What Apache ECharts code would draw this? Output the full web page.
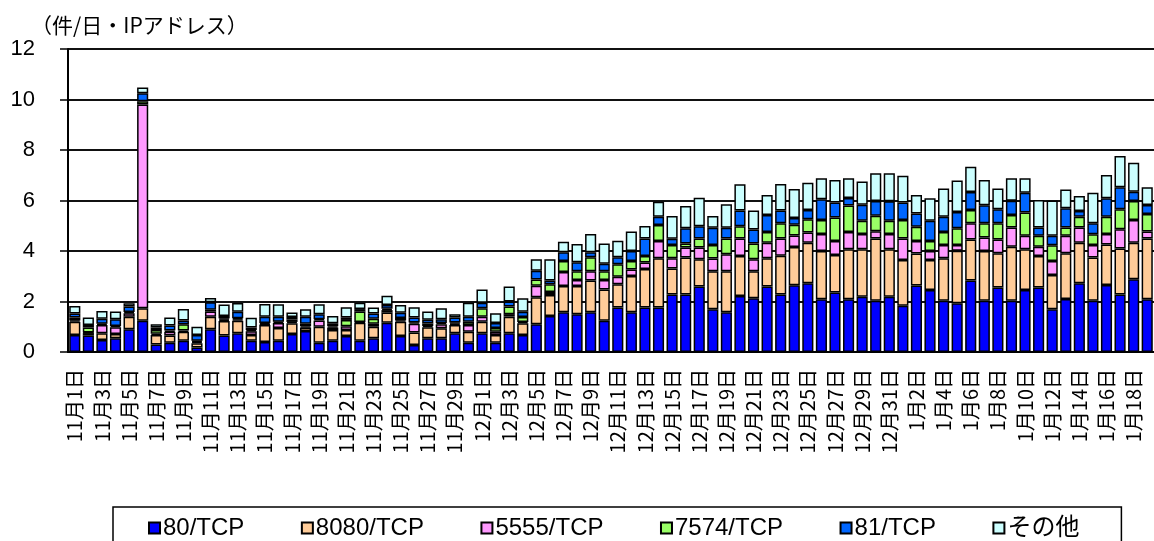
<!DOCTYPE html>
<html>
<head>
<meta charset="utf-8">
<script src="https://cdn.jsdelivr.net/npm/echarts@6/dist/echarts.min.js"></script>
<style>
  html, body { margin: 0; padding: 0; background: #fff; }
  #main { width: 1154px; height: 541px; }
</style>
</head>
<body>
<div id="main"></div>
<script>
// 日付カテゴリ (11/1 - 1/19)
const months = [[11, 30], [12, 31], [1, 19]];
const days = [];
months.forEach(([m, n]) => {
    for (let d = 1; d <= n; d++) days.push(m + '月' + d + '日');
});

const yTicks = [0, 2, 4, 6, 8, 10, 12];

// 件/日・IPアドレス
const tcp80 = [0.67,0.65,0.48,0.54,0.90,1.24,0.30,0.37,0.45,0.18,0.90,0.65,0.74,0.45,0.40,0.45,0.71,0.83,0.37,0.45,
    0.63,0.45,0.54,1.16,0.63,0.28,0.54,0.54,0.74,0.37,0.74,0.37,0.74,0.67,1.10,1.43,1.57,1.50,1.57,1.24,
    1.76,1.57,1.76,1.76,2.28,2.28,2.59,1.69,1.57,2.22,2.13,2.59,2.28,2.64,2.72,2.09,2.36,2.09,2.19,2.03,
    2.19,1.83,2.63,2.46,2.03,1.93,2.83,2.03,2.55,2.03,2.46,2.55,1.69,2.10,2.72,2.03,2.65,2.28,2.88,2.09];
const tcp8080 = [0.53,0.10,0.26,0.17,0.50,0.49,0.37,0.28,0.35,0.17,0.50,0.58,0.50,0.22,0.67,0.50,0.43,0.14,0.63,0.42,
    0.24,0.71,0.46,0.40,0.57,0.49,0.44,0.40,0.33,0.43,0.46,0.30,0.66,0.47,1.07,0.83,1.04,1.11,1.26,1.24,
    0.92,1.44,1.53,1.95,1.03,1.46,1.08,1.51,1.63,1.58,1.07,1.12,1.53,1.52,1.61,1.91,1.48,1.98,1.88,2.47,
    1.88,1.81,1.27,1.18,1.68,2.08,1.63,1.97,1.36,2.14,1.61,1.25,1.36,1.81,1.61,1.71,1.61,1.82,1.45,2.41];
const tcp5555 = [0.05,0.02,0.33,0.27,0.13,8.07,0.05,0.15,0.05,0.05,0.20,0.05,0.05,0.15,0.03,0.20,0.05,0.05,0.25,0.10,
    0.15,0.03,0.12,0.10,0.05,0.35,0.05,0.16,0.05,0.27,0.20,0.13,0.10,0.05,0.45,0.12,0.56,0.24,0.37,0.37,
    0.30,0.26,0.25,0.69,0.40,0.40,0.47,0.50,0.67,0.70,0.47,0.62,0.69,0.45,0.40,0.67,0.56,0.68,0.60,0.28,
    0.60,0.86,0.50,0.36,0.53,0.23,0.64,0.53,0.55,0.76,0.53,0.37,0.55,0.69,0.60,0.50,0.41,0.76,0.90,0.27];
const tcp7574 = [0.12,0.20,0.05,0.05,0.05,0.13,0.15,0.05,0.25,0.05,0.07,0.05,0.05,0.05,0.05,0.05,0.10,0.10,0.05,0.05,
    0.25,0.41,0.20,0.05,0.10,0.05,0.10,0.05,0.05,0.13,0.33,0.15,0.30,0.20,0.25,0.30,0.43,0.35,0.55,0.35,
    0.50,0.33,0.26,0.63,0.53,0.16,0.36,0.54,0.63,0.48,0.63,0.42,0.60,0.43,0.53,0.56,0.93,1.05,0.53,0.62,
    0.53,0.73,0.56,0.40,0.51,0.66,0.52,0.57,0.64,0.50,0.92,0.43,0.63,0.33,0.43,0.42,0.69,0.79,0.75,0.70];
const tcp81 = [0.15,0.10,0.20,0.27,0.22,0.32,0.10,0.20,0.15,0.22,0.30,0.10,0.25,0.10,0.25,0.20,0.10,0.28,0.20,0.12,
    0.10,0.10,0.20,0.15,0.20,0.20,0.15,0.15,0.20,0.20,0.22,0.20,0.20,0.20,0.35,0.15,0.35,0.35,0.20,0.30,
    0.27,0.40,0.70,0.33,0.25,0.60,0.48,0.68,0.42,0.62,0.55,0.68,0.50,0.27,0.36,0.82,0.59,0.30,0.63,0.58,
    0.77,0.69,0.53,0.80,0.61,0.64,0.72,0.71,0.55,0.56,0.79,0.33,0.37,0.76,0.22,0.44,0.73,0.87,0.37,0.35];
const others = [0.30,0.30,0.30,0.30,0.13,0.23,0.13,0.32,0.45,0.33,0.17,0.45,0.35,0.39,0.50,0.49,0.17,0.29,0.39,0.29,
    0.40,0.25,0.24,0.37,0.31,0.40,0.32,0.43,0.13,0.55,0.53,0.38,0.59,0.54,0.45,0.84,0.42,0.73,0.72,0.80,
    0.66,0.77,0.49,0.59,0.90,0.88,1.13,0.47,0.93,1.04,0.75,0.79,1.05,1.15,1.08,0.83,0.89,0.78,0.92,1.10,
    1.11,1.06,0.73,0.89,1.12,1.25,1.00,1.00,0.83,0.89,0.57,1.09,1.40,0.75,0.60,1.21,0.92,1.24,1.15,0.70];

const seriesNames = ['80/TCP', '8080/TCP', '5555/TCP', '7574/TCP', '81/TCP', 'その他'];
const seriesColors = ['#0000ff', '#ffcc99', '#ff99ff', '#99ff66', '#0066ff', '#ccffff'];
const seriesData = [tcp80, tcp8080, tcp5555, tcp7574, tcp81, others];

const chart = echarts.init(document.getElementById('main'));

const option = {
    backgroundColor: '#fff',
    animation: false,
    title: {
        text: '（件/日・IPアドレス）',
        left: 26,
        top: 10,
        textStyle: { fontFamily: 'Noto Sans CJK JP', fontSize: 21, fontWeight: 'normal', color: '#000' }
    },
    grid: { left: 68, top: 49, bottom: 189, width: 1092 },
    legend: {
        data: seriesNames,
        left: 113,
        top: 507,
        padding: [9, 42, 20, 35],
        borderColor: '#000',
        borderWidth: 1.5,
        itemGap: 56.5,
        itemWidth: 11,
        itemHeight: 11,
        icon: 'rect',
        textStyle: { fontFamily: 'Liberation Sans, Noto Sans CJK JP', fontSize: 24, color: '#000', padding: [0, 0, 0, -2] }
    },
    xAxis: {
        type: 'category',
        data: days,
        axisLine: { lineStyle: { color: '#000', width: 2 } },
        axisTick: { interval: 1, length: 8, lineStyle: { color: '#000', width: 1.5 } },
        axisLabel: {
            interval: 1,
            rotate: 90,
            margin: 17,
            fontFamily: 'Noto Sans CJK JP',
            fontSize: 20,
            color: '#000'
        }
    },
    yAxis: {
        type: 'value',
        min: yTicks[0],
        max: yTicks[yTicks.length - 1],
        interval: 2,
        axisLine: { show: true, lineStyle: { color: '#000', width: 2 } },
        axisTick: { show: true, length: 8, lineStyle: { color: '#000', width: 1.5 } },
        axisLabel: { margin: 33, fontFamily: 'Liberation Sans', fontSize: 22, color: '#000' },
        splitLine: { lineStyle: { color: '#111', width: 2 } }
    },
    series: seriesNames.map((name, k) => ({
        name: name,
        type: 'bar',
        stack: 'total',
        barCategoryGap: '18%',
        data: seriesData[k],
        itemStyle: { color: seriesColors[k], borderColor: '#000', borderWidth: 1.5 }
    }))
};

chart.setOption(option);
</script>
</body>
</html>
